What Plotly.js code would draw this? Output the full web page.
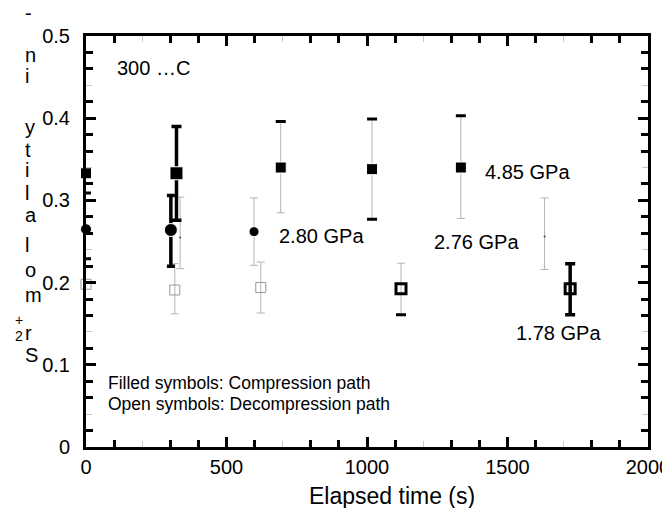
<!DOCTYPE html>
<html>
<head>
<meta charset="utf-8">
<script src="https://cdn.plot.ly/plotly-3.0.1.min.js"></script>
<style>html,body{margin:0;padding:0;background:#fff;}#chart{width:662px;height:508px;}</style>
</head>
<body>
<div id="chart"></div>
<script>
// ---- data ----
// 4.85 GPa, compression (filled squares)
const time485 = [0, 322, 693, 1018, 1334];
const sr485 = [0.333, 0.333, 0.340, 0.338, 0.340];
const sr485Hi = [null, 0.390, 0.396, 0.399, 0.403];
const sr485Lo = [null, 0.276, 0.285, 0.277, 0.278];
// 2.80 GPa, compression (filled circles)
const time280 = [0, 302, 598];
const sr280 = [0.265, 0.264, 0.262];
const sr280Hi = [0.309, 0.306, 0.303];
const sr280Lo = [0.229, 0.220, 0.221];
// 2.76 GPa, decompression (open circles, barely visible)
const time276 = [335, 1632];
const sr276 = [0.255, 0.256];
const sr276Hi = [0.304, 0.303];
const sr276Lo = [0.217, 0.216];
// 1.78 GPa, decompression (open squares)
const time178 = [0, 316, 622, 1121, 1723];
const sr178 = [0.198, 0.191, 0.194, 0.1925, 0.1925];
const sr178Hi = [null, 0.223, 0.225, 0.2236, 0.2228];
const sr178Lo = [null, 0.162, 0.163, 0.161, 0.161];

const xTickVals = [0, 500, 1000, 1500, 2000];
const yTickVals = [0, 0.1, 0.2, 0.3, 0.4, 0.5];
const pressureLabels = ['4.85 GPa', '2.80 GPa', '2.76 GPa', '1.78 GPa'];

// ---- helpers ----
const FONT = 'Liberation Sans, Arial, Helvetica, sans-serif';
const GRAY = '#b4b4b4';
function pick(a, idx) { return idx.map(i => a[i]); }
function barTrace(xs, ys, hi, lo, idx, color, thick, width) {
  return {
    x: pick(xs, idx), y: pick(ys, idx), type: 'scatter', mode: 'markers',
    marker: {opacity: 0, size: 2}, cliponaxis: false, hoverinfo: 'skip', showlegend: false,
    error_y: {type: 'data', symmetric: false,
      array: idx.map(i => hi[i] - ys[i]), arrayminus: idx.map(i => ys[i] - lo[i]),
      color: color, thickness: thick, width: width}
  };
}
function capTrace(xs, bound, idx) {
  return {
    x: pick(xs, idx), y: pick(bound, idx), type: 'scatter', mode: 'markers',
    marker: {opacity: 0, size: 2}, cliponaxis: false, hoverinfo: 'skip', showlegend: false,
    error_y: {type: 'data', array: idx.map(() => 0), color: '#000', thickness: 3, width: 5}
  };
}

const traces = [
  // thin gray error bars
  barTrace(time485, sr485, sr485Hi, sr485Lo, [2, 3, 4], GRAY, 1, 4),
  barTrace(time280, sr280, sr280Hi, sr280Lo, [2], GRAY, 1, 4),
  barTrace(time276, sr276, sr276Hi, sr276Lo, [0, 1], GRAY, 1, 4),
  barTrace(time178, sr178, sr178Hi, sr178Lo, [1, 2, 3], GRAY, 1, 4),
  // thick black error bars
  barTrace(time485, sr485, sr485Hi, sr485Lo, [1], '#000', 3.5, 5),
  barTrace(time280, sr280, sr280Hi, sr280Lo, [1], '#000', 3.5, 4),
  barTrace(time178, sr178, sr178Hi, sr178Lo, [4], '#000', 3.5, 5),
  // black caps
  capTrace(time485, sr485Hi, [2, 3, 4]),
  capTrace(time485, sr485Lo, [3]),
  capTrace(time178, sr178Lo, [3]),
  capTrace(time280, sr280Hi, [0]),
  capTrace(time280, sr280Lo, [0]),
  // markers
  {x: time276, y: sr276, type: 'scatter', mode: 'markers', name: pressureLabels[2], cliponaxis: false,
   marker: {symbol: 'circle', size: 2, color: '#444', opacity: 1}},
  {x: time178, y: sr178, type: 'scatter', mode: 'markers', name: pressureLabels[3], cliponaxis: false,
   marker: {symbol: 'square-open', size: [10, 10, 10, 10, 10], opacity: 1,
            color: ['#999', '#999', '#999', '#000', '#000'],
            line: {width: [1, 1, 1, 3, 3]}}},
  {x: time280, y: sr280, type: 'scatter', mode: 'markers', name: pressureLabels[1], cliponaxis: false,
   marker: {symbol: 'circle', size: [11, 13, 10], color: '#000', opacity: 1}},
  {x: time485, y: sr485, type: 'scatter', mode: 'markers', name: pressureLabels[0], cliponaxis: false,
   marker: {symbol: 'square', size: [11, 13, 11, 11, 11], color: '#000', opacity: 1}},
  // carrier for the gray tick overlay axes
  {x: [1000], y: [0.25], xaxis: 'x2', yaxis: 'y2', type: 'scatter', mode: 'markers',
   marker: {opacity: 0}, hoverinfo: 'skip', showlegend: false}
];

// minor ticks
const xMinorBlack = [], xMinorGray = [], yMinorBlack = [], yMinorGray = [];
for (let k = 0; k < 4; k++) {
  [100, 300, 400].forEach(d => xMinorBlack.push(k * 500 + d));
  xMinorGray.push(k * 500 + 200);
}
for (let k = 0; k < 5; k++) {
  [0.02, 0.06, 0.08].forEach(d => yMinorBlack.push(+(k * 0.1 + d).toFixed(3)));
  yMinorGray.push(+(k * 0.1 + 0.04).toFixed(3));
}

const axisCommon = {
  showline: true, linewidth: 3, linecolor: '#000', mirror: 'ticks',
  ticks: 'inside', ticklen: 10, tickwidth: 3, tickcolor: '#000',
  showgrid: false, zeroline: false, ticklabeloverflow: 'allow',
  tickfont: {family: FONT, size: 20, color: '#000'}
};

// y-axis title, as it appears (characters stacked upright)
const yTitleChars = [
  ['S', 362], ['r', 340], ['m', 302], ['o', 277], ['l', 252], ['a', 222], ['l', 200],
  ['i', 177], ['t', 157], ['y', 134], ['i', 83], ['n', 62], ['-', 20]
];
const PT = 36, PB = 447, PL = 86, PR = 648;
function py(p) { return (PB - p) / (PB - PT); }
function px(p) { return (p - PL) / (PR - PL); }

const annotations = [];
yTitleChars.forEach(([c, base]) => {
  annotations.push({text: c, xref: 'paper', yref: 'paper', x: px(24), y: py(base - 7),
    xanchor: 'left', yanchor: 'middle', showarrow: false, borderpad: 0,
    font: {family: FONT, size: 20, color: '#000'}});
});
annotations.push({text: '+', xref: 'paper', yref: 'paper', x: px(14), y: py(320),
  xanchor: 'left', yanchor: 'middle', showarrow: false, borderpad: 0,
  font: {family: FONT, size: 14, color: '#000'}});
annotations.push({text: '2', xref: 'paper', yref: 'paper', x: px(14), y: py(336),
  xanchor: 'left', yanchor: 'middle', showarrow: false, borderpad: 0,
  font: {family: FONT, size: 14, color: '#000'}});

function note(text, x, y, size) {
  annotations.push({text: text, xref: 'x', yref: 'y', x: x, y: y, xanchor: 'left', yanchor: 'middle',
    showarrow: false, borderpad: 0, font: {family: FONT, size: size, color: '#000'}});
}
note(pressureLabels[0], 1417, 0.335, 20);
note(pressureLabels[1], 682, 0.257, 20);
note(pressureLabels[2], 1236, 0.250, 20);
note(pressureLabels[3], 1527, 0.139, 20);
note('300 …C', 108, 0.461, 20);
note('Filled symbols: Compression path', 76, 0.0775, 17.5);
note('Open symbols: Decompression path', 76, 0.0525, 17.5);
// x-axis title
annotations.push({text: 'Elapsed time (s)', xref: 'paper', yref: 'paper', x: px(392), y: py(496),
  xanchor: 'center', yanchor: 'middle', showarrow: false, borderpad: 0,
  font: {family: FONT, size: 23, color: '#000'}});

const layout = {
  width: 662, height: 508,
  margin: {l: PL, r: 662 - PR, t: PT, b: 508 - PB, pad: 0},
  paper_bgcolor: '#fff', plot_bgcolor: '#fff',
  showlegend: false,
  font: {family: FONT, color: '#000'},
  xaxis: Object.assign({}, axisCommon, {
    range: [0, 2000], tickmode: 'array', tickvals: xTickVals,
    minor: {tickmode: 'array', tickvals: xMinorBlack, ticks: 'inside', ticklen: 7, tickwidth: 3, tickcolor: '#000'}
  }),
  yaxis: Object.assign({}, axisCommon, {
    range: [0, 0.5], tickmode: 'array', tickvals: yTickVals, ticklabelstandoff: 9,
    minor: {tickmode: 'array', tickvals: yMinorBlack, ticks: 'inside', ticklen: 7, tickwidth: 3, tickcolor: '#000'}
  }),
  xaxis2: {overlaying: 'x', range: [0, 2000], tickmode: 'array', tickvals: xMinorGray,
    ticks: 'inside', ticklen: 6, tickwidth: 1, tickcolor: '#c8c8c8', mirror: 'ticks',
    showticklabels: false, showline: false, showgrid: false, zeroline: false},
  yaxis2: {overlaying: 'y', range: [0, 0.5], tickmode: 'array', tickvals: yMinorGray,
    ticks: 'inside', ticklen: 6, tickwidth: 1, tickcolor: '#c8c8c8', mirror: 'ticks',
    showticklabels: false, showline: false, showgrid: false, zeroline: false},
  annotations: annotations
};

Plotly.newPlot('chart', traces, layout, {displayModeBar: false, staticPlot: true});
</script>
</body>
</html>
